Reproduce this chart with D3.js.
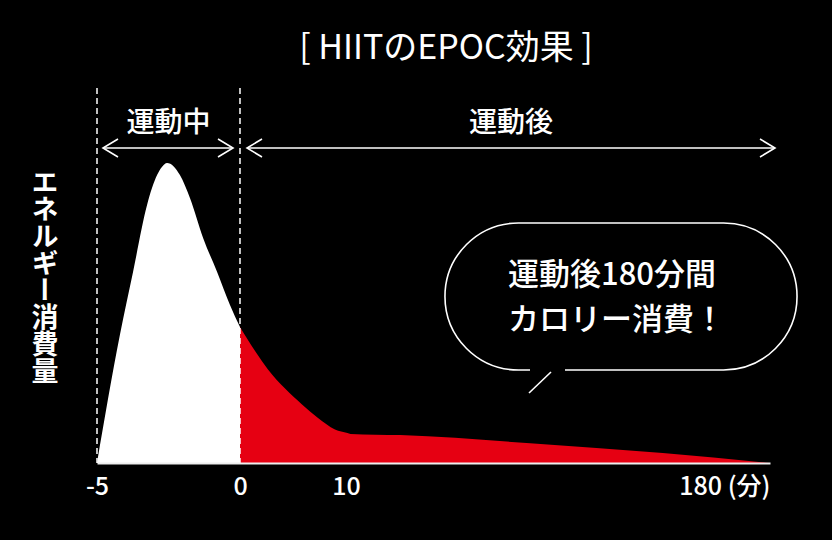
<!DOCTYPE html>
<html>
<head>
<meta charset="utf-8">
<script src="https://cdn.jsdelivr.net/npm/d3@7"></script>
<style>
  html, body { margin: 0; padding: 0; background: #000; }
  svg { display: block; }
  text { font-family: "Noto Sans CJK JP", "Noto Sans", sans-serif; fill: #fff; }
</style>
</head>
<body>
<div id="chart"></div>
<script>
// energy curve during exercise (minutes -5..0)
var duringT = [-5, -4.2, -3.74, -3.25, -2.9, -2.73, -2.55, -2.1, -1.75, -1.29, -0.8, -0.35, 0];
var duringV = [0, 42.7, 63.7, 86, 96, 98.7, 100, 96, 88.3, 75, 63.7, 52.7, 45.3];
// energy after exercise (minutes 0..180)
var afterT = [0, 1.42, 2.64, 4.25, 5.85, 7.36, 8.96, 10.57, 11.8, 31.7, 83.8, 137, 180];
var afterV = [45.3, 37.3, 31.2, 24.8, 19.5, 15, 11.2, 10, 9.7, 9.3, 6.6, 3.3, 0];
var tickVals = [-5, 0, 10, 180];
var tickLabels = ["-5", "0", "10", "180 (分)"];
var phaseNames = ["運動中", "運動後"];
var bubbleLines = ["運動後180分間", "カロリー消費！"];

var width = 832, height = 540;

var svg = d3.select("#chart").append("svg")
    .attr("width", width)
    .attr("height", height);

svg.append("rect").attr("width", width).attr("height", height).attr("fill", "#000");

// piecewise scale, the time axis isn't linear
var x = d3.scaleLinear()
    .domain(tickVals)
    .range([97, 240, 346, 770]);

var y = d3.scaleLinear()
    .domain([0, 100])
    .range([463, 163]);

var during = duringT.map(function(t, i) { return {t: t, v: duringV[i]}; });
var after = afterT.map(function(t, i) { return {t: t, v: afterV[i]}; });

var area = d3.area()
    .x(function(d) { return x(d.t); })
    .y0(y(0))
    .y1(function(d) { return y(d.v); })
    .curve(d3.curveMonotoneX);

svg.append("path")
    .datum(during)
    .attr("fill", "#fff")
    .attr("d", area);

svg.append("path")
    .datum(after)
    .attr("fill", "#e60012")
    .attr("d", area);

// dashed guides
svg.selectAll(".guide")
    .data([-5, 0])
    .enter().append("line")
    .attr("class", "guide")
    .attr("x1", function(d) { return x(d); })
    .attr("x2", function(d) { return x(d); })
    .attr("y1", 88)
    .attr("y2", y(0))
    .attr("stroke", "#fff")
    .attr("stroke-width", 1.5)
    .attr("stroke-dasharray", "6,4");

// x axis
var xAxis = svg.append("g")
    .attr("transform", "translate(0," + y(0) + ")")
    .call(d3.axisBottom(x).tickValues(tickVals).tickSize(0).tickSizeOuter(0)
        .tickFormat(function(d, i) { return tickLabels[i]; }));

xAxis.select(".domain").attr("stroke", "#eee").attr("stroke-width", 2);
xAxis.selectAll("text")
    .attr("y", 32)
    .attr("dy", null)
    .attr("fill", "#fff")
    .style("font-size", "25px")
    .style("font-family", "'Noto Sans CJK JP', sans-serif")
    .style("font-weight", 500);
xAxis.selectAll(".tick").filter(function(d) { return d === 180; })
    .select("text").attr("text-anchor", "end");

// phase arrows
function arrow(x1, x2, yy) {
    var g = svg.append("g").attr("stroke", "#fff").attr("stroke-width", 1.6).attr("fill", "none");
    g.append("line").attr("x1", x1).attr("x2", x2).attr("y1", yy).attr("y2", yy);
    g.append("path").attr("d", "M" + (x1 + 15) + "," + (yy - 9) + "L" + x1 + "," + yy + "L" + (x1 + 15) + "," + (yy + 9));
    g.append("path").attr("d", "M" + (x2 - 15) + "," + (yy - 9) + "L" + x2 + "," + yy + "L" + (x2 - 15) + "," + (yy + 9));
}
arrow(x(-5) + 6, x(0) - 7, 148);
arrow(x(0) + 7, 775, 148);

svg.append("text")
    .attr("x", (x(-5) + x(0)) / 2)
    .attr("y", 132)
    .attr("text-anchor", "middle")
    .style("font-size", "28px")
    .style("font-weight", 500)
    .text(phaseNames[0]);

svg.append("text")
    .attr("x", 511)
    .attr("y", 132)
    .attr("text-anchor", "middle")
    .style("font-size", "28px")
    .style("font-weight", 500)
    .text(phaseNames[1]);

// title
svg.append("text")
    .attr("x", 446)
    .attr("y", 59)
    .attr("text-anchor", "middle")
    .style("font-size", "34px")
    .style("font-weight", 400)
    .text("[ HIITのEPOC効果 ]");

// y label, vertical
svg.append("text")
    .attr("x", 45)
    .attr("y", 168)
    .style("writing-mode", "vertical-rl")
    .style("font-size", "27px")
    .style("font-weight", 700)
    .text("エネルギー消費量");

// speech bubble
var bx = 445, by = 223, bw = 352, bh = 147, r = bh / 2;
var bubble = d3.path();
bubble.moveTo(565, by + bh);
bubble.lineTo(bx + bw - r, by + bh);
bubble.arc(bx + bw - r, by + r, r, Math.PI / 2, -Math.PI / 2, true);
bubble.lineTo(bx + r, by);
bubble.arc(bx + r, by + r, r, -Math.PI / 2, Math.PI / 2, true);
bubble.lineTo(530, by + bh);
svg.append("path")
    .attr("d", bubble.toString())
    .attr("fill", "none")
    .attr("stroke", "#fff")
    .attr("stroke-width", 1.6);
svg.append("line")
    .attr("x1", 551).attr("y1", 372)
    .attr("x2", 529).attr("y2", 393)
    .attr("stroke", "#fff")
    .attr("stroke-width", 1.6);

svg.selectAll(".bubble-text")
    .data(bubbleLines)
    .enter().append("text")
    .attr("class", "bubble-text")
    .attr("x", 508)
    .attr("y", function(d, i) { return 285 + i * 45; })
    .style("font-size", "31px")
    .style("font-weight", 500)
    .text(function(d) { return d; });
</script>
</body>
</html>
